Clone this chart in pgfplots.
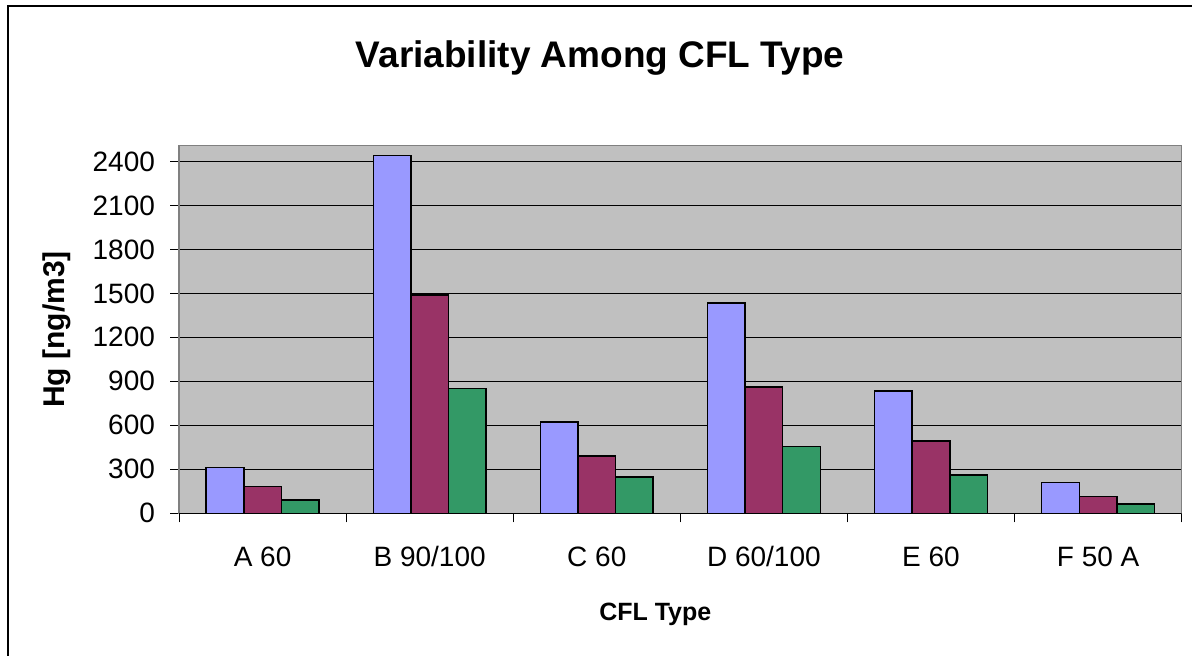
\documentclass[border=0pt]{standalone}
\usepackage{fontspec}
\setmainfont{Liberation Sans}
\usepackage{pgfplots}
\pgfplotsset{compat=1.18}
\definecolor{sblue}{HTML}{9999FF}
\definecolor{smaroon}{HTML}{993366}
\definecolor{sgreen}{HTML}{339966}
\definecolor{plotbg}{HTML}{C0C0C0}
\begin{document}
\begin{tikzpicture}
\useasboundingbox (0,0) rectangle (596pt,327.5pt);
\draw[black, line width=1pt] (4pt,-2pt) -- (4pt,324.5pt) -- (600pt,324.5pt);
\begin{axis}[
  at={(89.5pt,70.85pt)}, anchor=south west,
  scale only axis, width=501.35pt, height=183.8pt,
  ybar=0pt, bar width=0.225,
  xmin=-0.5, xmax=5.5, ymin=0, ymax=2507,
  xtick={0,1,2,3,4,5},
  xticklabels={A 60, B 90/100, C 60, D 60/100, E 60, F 50 A},
  major x tick style={draw=none},
  minor xtick={-0.5,0.5,1.5,2.5,3.5,4.5,5.5},
  minor tick length=4.5pt,
  minor x tick style={black, line width=0.5pt},
  ytick={0,300,...,2400},
  major tick length=4.5pt,
  tick align=outside,
  ytick pos=left, xtick pos=bottom,
  y tick style={black, line width=0.5pt},
  ymajorgrids, major grid style={black, line width=0.5pt},
  axis background/.style={fill=plotbg},
  axis line style={draw=gray, line width=0.75pt},
  /pgf/number format/assume math mode=true,
  scaled y ticks=false,
  yticklabel style={font=\fontsize{14}{16}\selectfont, /pgf/number format/1000 sep={}, xshift=-4pt},
  xticklabel style={font=\fontsize{14}{16}\selectfont, anchor=base, yshift=-22pt},
  title={\textbf{Variability Among CFL Type}},
  title style={font=\fontsize{18.5}{22}\selectfont, at={(axis description cs:0.42,1)}, anchor=base, yshift=33.3pt},
  xlabel={\textbf{CFL Type}},
  xlabel style={font=\fontsize{12.5}{15}\selectfont, at={(axis description cs:0.475,0)}, anchor=base, yshift=-53.5pt},
  ylabel={\textbf{Hg [ng/m3]}},
  ylabel style={font=\fontsize{15}{18}\selectfont, at={(axis description cs:-0.1217,0.5)}, anchor=center},
  every axis plot/.append style={draw=black, line width=0.75pt},
]
\addplot[fill=sblue] coordinates {(0,311) (1,2441) (2,623) (3,1434) (4,834) (5,209)};
\addplot[fill=smaroon] coordinates {(0,182) (1,1489) (2,391) (3,861) (4,493) (5,116)};
\addplot[fill=sgreen] coordinates {(0,91) (1,850) (2,248) (3,457) (4,261) (5,64)};
\draw[black, line width=0.75pt] (rel axis cs:0,0) -- (rel axis cs:1,0);
\end{axis}
\end{tikzpicture}
\end{document}
